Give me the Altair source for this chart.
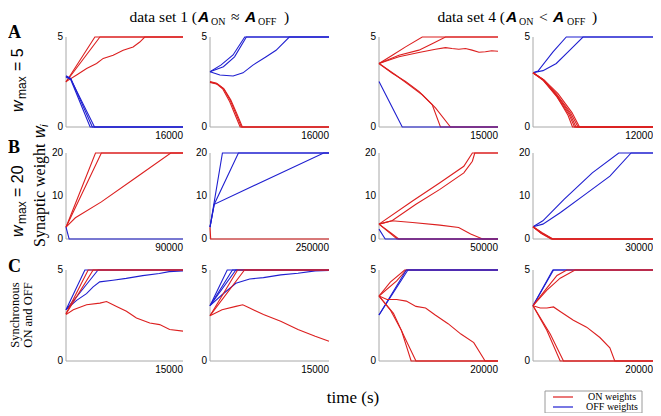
import altair as alt
import pandas as pd

# ---------------- data ----------------
ON, OFF = "ON weights", "OFF weights"

A1 = [
    (ON, [0, 3950, 16000], [2.5, 5, 5]),
    (ON, [0, 4640, 16000], [2.5, 5, 5]),
    (ON, [0, 1450, 2820, 4180, 5090, 6450, 7820, 9180, 10090, 10770, 16000],
         [2.52, 2.89, 3.25, 3.53, 3.81, 3.99, 4.26, 4.45, 4.72, 5, 5]),
    (OFF, [0, 600, 3300, 16000], [2.8, 2.68, 0, 0]),
    (OFF, [0, 650, 3600, 16000], [2.85, 2.7, 0, 0]),
    (OFF, [0, 700, 3900, 16000], [2.78, 2.62, 0, 0]),
]
A2 = [
    (OFF, [0, 1500, 3100, 4670, 16000], [3.07, 3.45, 4.0, 5, 5]),
    (OFF, [0, 1800, 3300, 4890, 16000], [3.07, 3.35, 3.9, 5, 5]),
    (OFF, [0, 1330, 3110, 4440, 5770, 7550, 8880, 10660, 16000],
          [3.07, 2.89, 2.83, 3.01, 3.44, 3.9, 4.26, 5, 5]),
    (ON, [0, 900, 1800, 2700, 3550, 4220, 16000], [2.52, 2.43, 2.15, 1.5, 0.68, 0, 0]),
    (ON, [0, 800, 1700, 2600, 3400, 4050, 16000], [2.5, 2.42, 2.12, 1.45, 0.65, 0, 0]),
    (ON, [0, 1000, 1900, 2800, 3650, 4350, 16000], [2.48, 2.38, 2.1, 1.5, 0.7, 0, 0]),
]
A3 = [
    (ON, [0, 1680, 3350, 5450, 15000], [3.53, 3.99, 4.45, 5, 5]),
    (ON, [0, 2510, 5030, 6700, 8380, 15000], [3.53, 3.99, 4.27, 4.63, 5, 5]),
    (ON, [0, 2510, 5030, 7120, 8380, 9200, 10060, 10900, 11730, 12600, 13410, 14200, 15000],
         [3.53, 3.9, 4.14, 4.32, 4.41, 4.36, 4.32, 4.36, 4.27, 4.15, 4.18, 4.24, 4.21]),
    (ON, [0, 1680, 3350, 5030, 6700, 7750, 15000], [3.53, 2.99, 2.53, 1.98, 1.25, 0, 0]),
    (ON, [0, 2100, 3770, 5450, 7120, 9010, 15000], [3.53, 2.89, 2.34, 1.79, 1.06, 0, 0]),
    (OFF, [0, 2930, 15000], [2.53, 0, 0]),
]
A4 = [
    (OFF, [0, 500, 2000, 3330, 12000], [3.01, 3.11, 4.17, 5, 5]),
    (OFF, [0, 1000, 2330, 3660, 5000, 12000], [3.01, 3.13, 3.53, 4.26, 5, 5]),
    (ON, [0, 1000, 2330, 3500, 3950, 12000], [3.01, 2.65, 1.75, 0.65, 0, 0]),
    (ON, [0, 1000, 2330, 3600, 4150, 12000], [3.01, 2.6, 1.72, 0.7, 0, 0]),
    (ON, [0, 1000, 2330, 3700, 4300, 12000], [3.01, 2.62, 1.8, 0.72, 0, 0]),
    (ON, [0, 1100, 2400, 3800, 4500, 12000], [3.01, 2.6, 1.8, 0.75, 0, 0]),
    (ON, [0, 1100, 2500, 3900, 4650, 12000], [3.01, 2.62, 1.85, 0.8, 0, 0]),
]
B1 = [
    (ON, [0, 22700, 90000], [2.75, 20, 20]),
    (ON, [0, 27200, 90000], [2.75, 20, 20]),
    (ON, [0, 7200, 27200, 53900, 80600, 90000], [2.75, 4.94, 8.63, 14.3, 20, 20]),
    (OFF, [0, 2400, 90000], [2.75, 0, 0]),
]
B2 = [
    (ON, [0, 1500, 250000], [2.75, 0, 0]),
    (OFF, [0, 26100, 250000], [2.75, 20, 20]),
    (OFF, [0, 8950, 59700, 250000], [2.75, 8.08, 20, 20]),
    (OFF, [0, 8950, 238800, 250000], [2.75, 8.08, 20, 20]),
]
B3 = [
    (ON, [0, 14080, 25580, 35640, 39230, 50000], [3.46, 8.85, 13.08, 16.92, 20, 20]),
    (ON, [0, 5460, 15520, 25580, 35640, 39230, 40240, 50000],
         [3.46, 4.23, 8.08, 11.54, 15.38, 18.08, 20, 20]),
    (ON, [0, 5460, 14080, 25580, 33480, 38510, 43540, 50000],
         [3.46, 4.23, 3.85, 3.23, 2.69, 1.15, 0, 0]),
    (ON, [0, 5000, 8300, 50000], [3.46, 1.4, 0, 0]),
    (ON, [0, 7600, 50000], [3.46, 0, 0]),
    (OFF, [0, 2600, 50000], [2.3, 0, 0]),
]
B4 = [
    (OFF, [0, 2470, 7760, 14820, 21430, 30000], [2.85, 4.23, 9.23, 15.38, 20, 20]),
    (OFF, [0, 2470, 6880, 13050, 19230, 24520, 30000], [2.85, 3.46, 6.15, 10.38, 14.62, 20, 20]),
    (ON, [0, 2000, 4500, 30000], [2.85, 1.3, 0, 0]),
    (ON, [0, 2100, 4700, 30000], [2.85, 1.35, 0, 0]),
    (ON, [0, 2200, 4850, 30000], [2.85, 1.4, 0, 0]),
    (ON, [0, 2300, 5000, 30000], [2.85, 1.45, 0, 0]),
]
C1 = [
    (OFF, [0, 2420, 15000], [2.82, 5, 5]),
    (OFF, [0, 1500, 4110, 15000], [2.82, 3.6, 5, 5]),
    (OFF, [0, 1357, 2630, 3480, 4320, 6020, 7720, 9840, 11960, 13230, 14920, 15000],
          [2.82, 3.33, 3.70, 4.07, 4.35, 4.44, 4.54, 4.69, 4.81, 4.91, 4.95, 4.95]),
    (ON, [0, 2840, 15000], [2.59, 5, 5]),
    (ON, [0, 3480, 15000], [2.59, 5, 5]),
    (ON, [0, 937, 2640, 4350, 5200, 6480, 7750, 9030, 10740, 12010, 13290, 15000],
         [2.55, 2.82, 3.09, 3.18, 3.27, 3.0, 2.73, 2.36, 2.09, 2.0, 1.73, 1.64]),
]
C2 = [
    (OFF, [0, 2170, 15000], [3.04, 5, 5]),
    (OFF, [0, 2830, 15000], [3.04, 5, 5]),
    (OFF, [0, 3260, 15000], [3.04, 5, 5]),
    (OFF, [0, 1520, 3260, 5000, 6740, 8910, 11090, 13260, 15000],
          [3.04, 3.64, 4.27, 4.51, 4.58, 4.73, 4.82, 4.95, 4.97]),
    (ON, [0, 3480, 15000], [2.49, 5, 5]),
    (ON, [0, 4350, 15000], [2.49, 5, 5]),
    (ON, [0, 1520, 3260, 4130, 5000, 6740, 8910, 11090, 13260, 15000],
         [2.49, 2.82, 3.0, 3.09, 2.91, 2.55, 2.18, 1.73, 1.36, 1.09]),
]
C3 = [
    (ON, [0, 1900, 4320, 20000], [3.57, 4.33, 5, 5]),
    (ON, [0, 2970, 4590, 20000], [3.57, 4.4, 5, 5]),
    (OFF, [0, 4590, 20000], [2.53, 5, 5]),
    (OFF, [0, 4860, 20000], [2.53, 5, 5]),
    (ON, [0, 1350, 2970, 4590, 6210, 7830, 9450, 11610, 13770, 15930, 17550, 17820, 20000],
         [3.57, 3.38, 3.38, 3.29, 3.0, 2.91, 2.53, 2.05, 1.48, 1.01, 0.15, 0, 0]),
    (ON, [0, 1890, 3780, 5400, 20000], [3.57, 2.81, 1.67, 0, 0]),
    (ON, [0, 2430, 4320, 6210, 20000], [3.57, 2.62, 1.29, 0, 0]),
]
C4 = [
    (OFF, [0, 3420, 20000], [3.04, 5, 5]),
    (OFF, [0, 3300, 20000], [3.04, 5, 5]),
    (ON, [0, 2300, 4000, 5630, 20000], [3.04, 4.0, 4.7, 5, 5]),
    (ON, [0, 2320, 4530, 7010, 20000], [3.04, 3.9, 4.55, 5, 5]),
    (ON, [0, 1210, 2320, 3420, 4530, 6730, 8940, 11150, 12810, 13630, 20000],
         [3.04, 2.91, 2.91, 2.97, 2.72, 2.24, 1.86, 1.29, 0.72, 0, 0]),
    (ON, [0, 2320, 4530, 20000], [3.04, 1.67, 0, 0]),
    (ON, [0, 2870, 5080, 20000], [3.04, 1.48, 0, 0]),
]

T_MAX = [[16000, 16000, 15000, 12000],
         [90000, 250000, 50000, 30000],
         [15000, 15000, 20000, 20000]]
W_MAX = [5, 20, 5]
W_TICKS = [[0, 5], [0, 10, 20], [0, 5]]
GRID = [[A1, A2, A3, A4], [B1, B2, B3, B4], [C1, C2, C3, C4]]
LEGEND_LABELS = [ON, OFF]

# ---------------- layout / style ----------------
COLS = [(58, 175), (202, 321), (371, 490), (525, 645)]
ROWS = [(119, 29), (231, 145), (353, 262)]
RED, BLUE, GRAY = "#dc1f1f", "#1f1fd0", "#a8a8a8"
SANS, SERIF = "Liberation Sans", "Liberation Serif, DejaVu Serif, serif"

COLOR = alt.Color("kind:N", scale=alt.Scale(domain=[ON, OFF], range=[RED, BLUE]), legend=None)


def panel(lines, tmax, wmax, wticks, xr, yr):
    rows = []
    for i, (kind, ts, ws) in enumerate(lines):
        for j, (t, w) in enumerate(zip(ts, ws)):
            rows.append({"line": i, "kind": kind, "t": t, "w": w, "o": j})
    df = pd.DataFrame(rows)
    xs = alt.Scale(domain=[0, tmax], range=list(xr), nice=False, zero=False)
    ys = alt.Scale(domain=[0, wmax], range=list(yr), nice=False, zero=False)
    X = alt.X("t:Q", scale=xs, axis=None)
    Y = alt.Y("w:Q", scale=ys, axis=None)

    ax_df = pd.DataFrame({"t": [0, 0], "w": [0, 0], "t2": [0, tmax], "w2": [wmax, 0]})
    axes = alt.Chart(ax_df).mark_rule(color=GRAY, strokeWidth=1).encode(
        x=X, y=Y, x2="t2:Q", y2="w2:Q")
    lns = alt.Chart(df).mark_line(strokeWidth=1.1).encode(
        x=X, y=Y, detail="line:N", color=COLOR, order="o:Q")
    yl_df = pd.DataFrame({"t": [0] * len(wticks), "w": wticks, "lab": [str(v) for v in wticks]})
    ylab = alt.Chart(yl_df).mark_text(align="right", baseline="middle", dx=-3,
                                      font=SANS, fontSize=10, color="black").encode(
        x=X, y=Y, text="lab:N")
    xl_df = pd.DataFrame({"t": [tmax], "w": [0], "lab": [str(tmax)]})
    xlab = alt.Chart(xl_df).mark_text(align="right", baseline="top", dy=4,
                                      font=SANS, fontSize=10, color="black").encode(
        x=X, y=Y, text="lab:N")
    return alt.layer(axes, lns, ylab, xlab)


layers = []
for r in range(3):
    for c in range(4):
        layers.append(panel(GRID[r][c], T_MAX[r][c], W_MAX[r], W_TICKS[r], COLS[c], ROWS[r]))

ONE = pd.DataFrame({"k": [0]})


def txt(s, x, y, size=17, font=SERIF, angle=0, align="left", baseline="alphabetic",
        style="normal", weight="normal"):
    return alt.Chart(ONE).mark_text(
        text=s, font=font, fontSize=size, angle=angle, align=align, baseline=baseline,
        fontStyle=style, fontWeight=weight, color="black").encode(
        x=alt.value(x), y=alt.value(y))


TB = 14    # title baseline
TS = 15.5  # title size
RS = 16    # row-label size
RX = 14.5  # row-label baseline (rotated)
ann = [
    # column titles
    txt("data set 1 (", 189, TB, size=TS, align="right"),
    txt("A", 190, TB, size=TS, font=SANS, style="italic", weight="bold"),
    txt("ON", 203, TB + 3, size=10), txt("≈", 223, TB, size=TS),
    txt("A", 237, TB, size=TS, font=SANS, style="italic", weight="bold"),
    txt("OFF", 250, TB + 3, size=10), txt(")", 276, TB, size=TS),
    txt("data set 4 (", 497, TB, size=TS, align="right"),
    txt("A", 498, TB, size=TS, font=SANS, style="italic", weight="bold"),
    txt("ON", 511, TB + 3, size=10), txt("<", 531, TB, size=TS),
    txt("A", 545, TB, size=TS, font=SANS, style="italic", weight="bold"),
    txt("OFF", 559, TB + 3, size=10), txt(")", 584, TB, size=TS),
    # row letters
    txt("A", 0, 30, size=18, weight="bold"),
    txt("B", 0, 145, size=18, weight="bold"),
    txt("C", 0, 264, size=18, weight="bold"),
    # w_max = 5
    txt("w", RX, 104, size=RS, font=SANS, angle=270, style="italic"),
    txt("max", RX + 3, 91, size=12, font=SANS, angle=270),
    txt("= 5", RX, 63, size=RS, font=SANS, angle=270),
    # w_max = 20
    txt("w", RX, 229, size=RS, font=SANS, angle=270, style="italic"),
    txt("max", RX + 3, 216, size=12, font=SANS, angle=270),
    txt("= 20", RX, 189, size=RS, font=SANS, angle=270),
    # Synaptic weight w_i
    txt("Synaptic weight", 37, 239, size=16, angle=270),
    txt("w", 37, 130, size=16, font=SANS, angle=270, style="italic"),
    txt("i", 40, 119, size=11, font=SANS, angle=270, style="italic"),
    # Synchronous ON and OFF
    txt("Synchronous", 11, 307, size=12.5, angle=270, align="center"),
    txt("ON and OFF", 24, 307, size=12.5, angle=270, align="center"),
    # x title
    txt("time (s)", 345, 395, align="center"),
]

# legend box drawn by hand
legend_box = alt.Chart(ONE).mark_rect(fill="white", stroke="#9a9a9a", strokeWidth=1).encode(
    x=alt.value(537), x2=alt.value(634), y=alt.value(383), y2=alt.value(405))
leg_items = []
for k, (lab, col) in enumerate(zip(LEGEND_LABELS, [RED, BLUE])):
    yy = 389 + 10 * k
    leg_items.append(alt.Chart(ONE).mark_rule(color=col, strokeWidth=1.2).encode(
        x=alt.value(545), x2=alt.value(565), y=alt.value(yy)))
    leg_items.append(txt(lab, 604, yy, size=10, align="center", baseline="middle"))

chart = alt.layer(*layers, *ann, legend_box, *leg_items).resolve_scale(
    x="independent", y="independent").properties(
    width=645, height=405, padding=0, autosize=alt.AutoSizeParams(type="none")
).configure_view(stroke=None)

chart.save("out.html", embed_options={"renderer": "svg", "actions": False})
